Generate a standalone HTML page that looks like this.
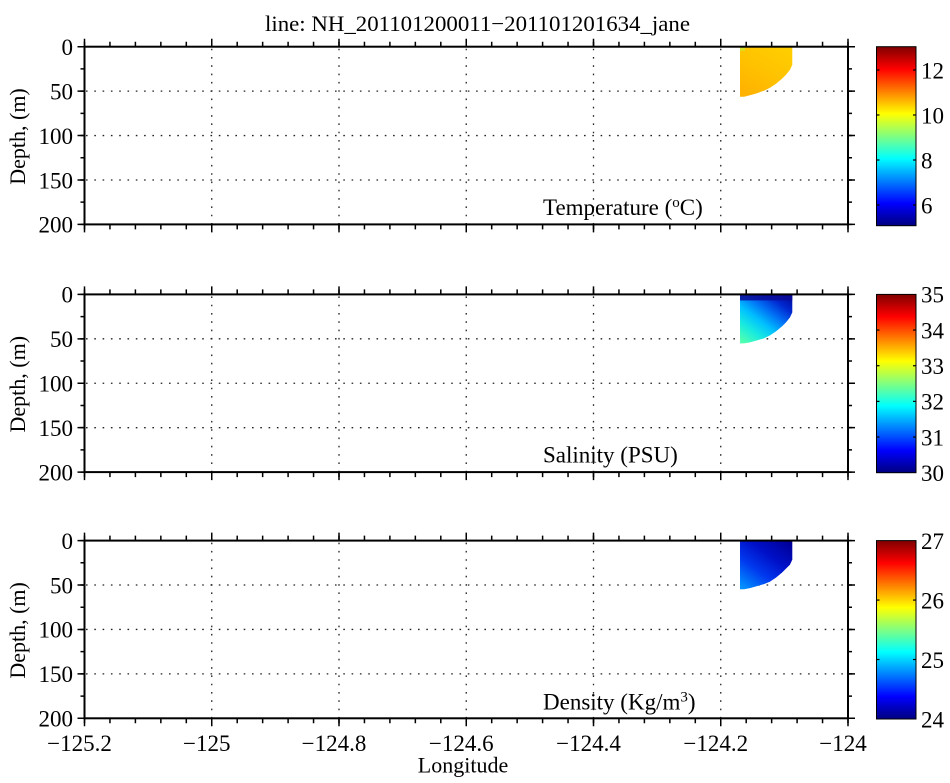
<!DOCTYPE html>
<html>
<head>
<meta charset="utf-8">
<style>
html,body{margin:0;padding:0;background:#fff;}
svg{display:block;}
svg, svg text, svg tspan{font-family:"Liberation Serif","Times New Roman",serif !important;}
</style>
</head>
<body>
<svg width="950" height="783" viewBox="0 0 950 783" xmlns="http://www.w3.org/2000/svg" font-family="Liberation Serif, serif">
<defs>
  <linearGradient id="jet" x1="0" y1="0" x2="0" y2="1">
    <stop offset="0" stop-color="#800000"/>
    <stop offset="0.125" stop-color="#FF0000"/>
    <stop offset="0.375" stop-color="#FFFF00"/>
    <stop offset="0.5" stop-color="#80FF80"/>
    <stop offset="0.625" stop-color="#00FFFF"/>
    <stop offset="0.875" stop-color="#0000FF"/>
    <stop offset="1" stop-color="#000080"/>
  </linearGradient>
  <linearGradient id="gT" x1="0.8" y1="0" x2="0.2" y2="1">
    <stop offset="0" stop-color="#FFCE00"/>
    <stop offset="0.5" stop-color="#FFC200"/>
    <stop offset="1" stop-color="#FFB200"/>
  </linearGradient>
  <linearGradient id="gS" x1="0.9" y1="0" x2="0.1" y2="1">
    <stop offset="0" stop-color="#000CA0"/>
    <stop offset="0.18" stop-color="#0028D0"/>
    <stop offset="0.38" stop-color="#0070F5"/>
    <stop offset="0.58" stop-color="#00BFFF"/>
    <stop offset="0.78" stop-color="#18EADF"/>
    <stop offset="1" stop-color="#50FFB0"/>
  </linearGradient>
  <linearGradient id="gD" x1="0.9" y1="0" x2="0.1" y2="1">
    <stop offset="0" stop-color="#000098"/>
    <stop offset="0.35" stop-color="#0010C8"/>
    <stop offset="0.65" stop-color="#0038EE"/>
    <stop offset="1" stop-color="#0090FF"/>
  </linearGradient>
</defs>

<rect x="0" y="0" width="950" height="783" fill="#fff"/>

<!-- Title -->
<text x="477.5" y="31" font-family="Liberation Serif, serif" font-size="22" text-anchor="middle" textLength="425" lengthAdjust="spacingAndGlyphs">line: NH_201101200011−201101201634_jane</text>

<!-- ============ PANEL 1 ============ -->
<g transform="translate(0,46.7)">
  <g stroke="#222" stroke-width="1.3" stroke-dasharray="1.6 6.7" fill="none">
    <line x1="86" y1="44.425" x2="848" y2="44.425"/>
    <line x1="86" y1="88.85" x2="848" y2="88.85"/>
    <line x1="86" y1="133.275" x2="848" y2="133.275"/>
    <line x1="211.75" y1="2" x2="211.75" y2="177.7"/>
    <line x1="339" y1="2" x2="339" y2="177.7"/>
    <line x1="466.25" y1="2" x2="466.25" y2="177.7"/>
    <line x1="593.5" y1="2" x2="593.5" y2="177.7"/>
    <line x1="720.75" y1="2" x2="720.75" y2="177.7"/>
  </g>
  <path d="M740,0 H792.3 V18 L790,23 L786,28 L782,32 L776,37 L770,41 L764,44 L757,46.5 L750,48.5 L744,50 L740,50 Z" fill="url(#gT)"/>
  <rect x="740" y="0" width="5" height="4" fill="#D6E22A"/>
  <g stroke="#000" fill="none">
    <line x1="83.75" y1="-4" x2="848.75" y2="-4" stroke-width="8" stroke-dasharray="1.5 125.75"/>
    <line x1="83.75" y1="-2.5" x2="848.75" y2="-2.5" stroke-width="5" stroke-dasharray="1.5 23.95"/>
    <line x1="83.75" y1="181.7" x2="848.75" y2="181.7" stroke-width="8" stroke-dasharray="1.5 125.75"/>
    <line x1="83.75" y1="180.2" x2="848.75" y2="180.2" stroke-width="5" stroke-dasharray="1.5 23.95"/>
    <line x1="81" y1="-0.75" x2="81" y2="178.45" stroke-width="7" stroke-dasharray="1.5 42.925"/>
    <line x1="82.5" y1="-0.75" x2="82.5" y2="178.45" stroke-width="4" stroke-dasharray="1.5 20.7125"/>
    <line x1="851.5" y1="-0.75" x2="851.5" y2="178.45" stroke-width="7" stroke-dasharray="1.5 42.925"/>
    <line x1="850" y1="-0.75" x2="850" y2="178.45" stroke-width="4" stroke-dasharray="1.5 20.7125"/>
    <rect x="84.5" y="0" width="763.5" height="177.7" stroke-width="2"/>
  </g>
  <g font-family="Liberation Serif, serif" font-size="23" text-anchor="end">
    <text x="73" y="8.3">0</text>
    <text x="73" y="52.7">50</text>
    <text x="73" y="97.15">100</text>
    <text x="73" y="141.6">150</text>
    <text x="73" y="186">200</text>
  </g>
  <text transform="translate(25,89.8) rotate(-90)" font-family="Liberation Serif, serif" font-size="22" text-anchor="middle">Depth, (m)</text>
  <text x="543" y="168.3" font-family="Liberation Serif, serif" font-size="23">Temperature (<tspan font-size="15" dy="-8">o</tspan><tspan dy="8">C)</tspan></text>
  <rect x="876.5" y="0" width="39.5" height="179" fill="url(#jet)" stroke="#000" stroke-width="1"/>
  <g stroke="#000" stroke-width="1.2">
    <line x1="876.5" y1="23.3" x2="879.5" y2="23.3"/><line x1="913" y1="23.3" x2="916" y2="23.3"/>
    <line x1="876.5" y1="68.3" x2="879.5" y2="68.3"/><line x1="913" y1="68.3" x2="916" y2="68.3"/>
    <line x1="876.5" y1="113.3" x2="879.5" y2="113.3"/><line x1="913" y1="113.3" x2="916" y2="113.3"/>
    <line x1="876.5" y1="158.3" x2="879.5" y2="158.3"/><line x1="913" y1="158.3" x2="916" y2="158.3"/>
  </g>
  <g font-family="Liberation Serif, serif" font-size="23">
    <text x="921" y="31.6">12</text>
    <text x="921" y="76.6">10</text>
    <text x="921" y="121.6">8</text>
    <text x="921" y="166.6">6</text>
  </g>
</g>

<!-- ============ PANEL 2 ============ -->
<g transform="translate(0,294.4)">
  <g stroke="#222" stroke-width="1.3" stroke-dasharray="1.6 6.7" fill="none">
    <line x1="86" y1="44.425" x2="848" y2="44.425"/>
    <line x1="86" y1="88.85" x2="848" y2="88.85"/>
    <line x1="86" y1="133.275" x2="848" y2="133.275"/>
    <line x1="211.75" y1="2" x2="211.75" y2="177.7"/>
    <line x1="339" y1="2" x2="339" y2="177.7"/>
    <line x1="466.25" y1="2" x2="466.25" y2="177.7"/>
    <line x1="593.5" y1="2" x2="593.5" y2="177.7"/>
    <line x1="720.75" y1="2" x2="720.75" y2="177.7"/>
  </g>
  <path d="M740,0 H792.3 V18 L790,23 L786,28 L782,32 L776,37 L770,41 L764,44 L757,46 L750,48 L744,49 L740,49 Z" fill="url(#gS)"/>
  <rect x="740" y="0" width="52.3" height="6" fill="#0A0C98" opacity="0.85"/>
  <g stroke="#000" fill="none">
    <line x1="83.75" y1="-4" x2="848.75" y2="-4" stroke-width="8" stroke-dasharray="1.5 125.75"/>
    <line x1="83.75" y1="-2.5" x2="848.75" y2="-2.5" stroke-width="5" stroke-dasharray="1.5 23.95"/>
    <line x1="83.75" y1="181.7" x2="848.75" y2="181.7" stroke-width="8" stroke-dasharray="1.5 125.75"/>
    <line x1="83.75" y1="180.2" x2="848.75" y2="180.2" stroke-width="5" stroke-dasharray="1.5 23.95"/>
    <line x1="81" y1="-0.75" x2="81" y2="178.45" stroke-width="7" stroke-dasharray="1.5 42.925"/>
    <line x1="82.5" y1="-0.75" x2="82.5" y2="178.45" stroke-width="4" stroke-dasharray="1.5 20.7125"/>
    <line x1="851.5" y1="-0.75" x2="851.5" y2="178.45" stroke-width="7" stroke-dasharray="1.5 42.925"/>
    <line x1="850" y1="-0.75" x2="850" y2="178.45" stroke-width="4" stroke-dasharray="1.5 20.7125"/>
    <rect x="84.5" y="0" width="763.5" height="177.7" stroke-width="2"/>
  </g>
  <g font-family="Liberation Serif, serif" font-size="23" text-anchor="end">
    <text x="73" y="8.3">0</text>
    <text x="73" y="52.7">50</text>
    <text x="73" y="97.15">100</text>
    <text x="73" y="141.6">150</text>
    <text x="73" y="186">200</text>
  </g>
  <text transform="translate(25,89.8) rotate(-90)" font-family="Liberation Serif, serif" font-size="22" text-anchor="middle">Depth, (m)</text>
  <text x="543" y="168.3" font-family="Liberation Serif, serif" font-size="23">Salinity (PSU)</text>
  <rect x="876.5" y="0" width="39.5" height="178.3" fill="url(#jet)" stroke="#000" stroke-width="1"/>
  <g stroke="#000" stroke-width="1.2">
    <line x1="876.5" y1="35.66" x2="879.5" y2="35.66"/><line x1="913" y1="35.66" x2="916" y2="35.66"/>
    <line x1="876.5" y1="71.32" x2="879.5" y2="71.32"/><line x1="913" y1="71.32" x2="916" y2="71.32"/>
    <line x1="876.5" y1="106.98" x2="879.5" y2="106.98"/><line x1="913" y1="106.98" x2="916" y2="106.98"/>
    <line x1="876.5" y1="142.64" x2="879.5" y2="142.64"/><line x1="913" y1="142.64" x2="916" y2="142.64"/>
  </g>
  <g font-family="Liberation Serif, serif" font-size="23">
    <text x="921" y="8.3">35</text>
    <text x="921" y="43.96">34</text>
    <text x="921" y="79.62">33</text>
    <text x="921" y="115.28">32</text>
    <text x="921" y="150.94">31</text>
    <text x="921" y="186.6">30</text>
  </g>
</g>

<!-- ============ PANEL 3 ============ -->
<g transform="translate(0,540.6)">
  <g stroke="#222" stroke-width="1.3" stroke-dasharray="1.6 6.7" fill="none">
    <line x1="86" y1="44.425" x2="848" y2="44.425"/>
    <line x1="86" y1="88.85" x2="848" y2="88.85"/>
    <line x1="86" y1="133.275" x2="848" y2="133.275"/>
    <line x1="211.75" y1="2" x2="211.75" y2="177.7"/>
    <line x1="339" y1="2" x2="339" y2="177.7"/>
    <line x1="466.25" y1="2" x2="466.25" y2="177.7"/>
    <line x1="593.5" y1="2" x2="593.5" y2="177.7"/>
    <line x1="720.75" y1="2" x2="720.75" y2="177.7"/>
  </g>
  <path d="M740,0 H792.3 V19 L790,24 L786,28 L782,32 L776,37 L770,41 L764,43.5 L757,45.5 L750,47.5 L744,48.7 L740,48.7 Z" fill="url(#gD)"/>
  <g stroke="#000" fill="none">
    <line x1="83.75" y1="-4" x2="848.75" y2="-4" stroke-width="8" stroke-dasharray="1.5 125.75"/>
    <line x1="83.75" y1="-2.5" x2="848.75" y2="-2.5" stroke-width="5" stroke-dasharray="1.5 23.95"/>
    <line x1="83.75" y1="181.7" x2="848.75" y2="181.7" stroke-width="8" stroke-dasharray="1.5 125.75"/>
    <line x1="83.75" y1="180.2" x2="848.75" y2="180.2" stroke-width="5" stroke-dasharray="1.5 23.95"/>
    <line x1="81" y1="-0.75" x2="81" y2="178.45" stroke-width="7" stroke-dasharray="1.5 42.925"/>
    <line x1="82.5" y1="-0.75" x2="82.5" y2="178.45" stroke-width="4" stroke-dasharray="1.5 20.7125"/>
    <line x1="851.5" y1="-0.75" x2="851.5" y2="178.45" stroke-width="7" stroke-dasharray="1.5 42.925"/>
    <line x1="850" y1="-0.75" x2="850" y2="178.45" stroke-width="4" stroke-dasharray="1.5 20.7125"/>
    <rect x="84.5" y="0" width="763.5" height="177.7" stroke-width="2"/>
  </g>
  <g font-family="Liberation Serif, serif" font-size="23" text-anchor="end">
    <text x="73" y="8.3">0</text>
    <text x="73" y="52.7">50</text>
    <text x="73" y="97.15">100</text>
    <text x="73" y="141.6">150</text>
    <text x="73" y="186">200</text>
  </g>
  <text transform="translate(25,89.8) rotate(-90)" font-family="Liberation Serif, serif" font-size="22" text-anchor="middle">Depth, (m)</text>
  <text x="543" y="169" font-family="Liberation Serif, serif" font-size="23">Density (Kg/m<tspan font-size="15" dy="-8">3</tspan><tspan dy="8">)</tspan></text>
  <rect x="876.5" y="0" width="39.5" height="178.4" fill="url(#jet)" stroke="#000" stroke-width="1"/>
  <g stroke="#000" stroke-width="1.2">
    <line x1="876.5" y1="59.47" x2="879.5" y2="59.47"/><line x1="913" y1="59.47" x2="916" y2="59.47"/>
    <line x1="876.5" y1="118.93" x2="879.5" y2="118.93"/><line x1="913" y1="118.93" x2="916" y2="118.93"/>
  </g>
  <g font-family="Liberation Serif, serif" font-size="23">
    <text x="921" y="8.3">27</text>
    <text x="921" y="67.8">26</text>
    <text x="921" y="127.2">25</text>
    <text x="921" y="186.7">24</text>
  </g>
</g>

<!-- X tick labels -->
<g font-family="Liberation Serif, serif" font-size="23" text-anchor="middle">
  <text x="79.5" y="751">−125.2</text>
  <text x="206.75" y="751">−125</text>
  <text x="334" y="751">−124.8</text>
  <text x="461.25" y="751">−124.6</text>
  <text x="588.5" y="751">−124.4</text>
  <text x="715.75" y="751">−124.2</text>
  <text x="843" y="751">−124</text>
</g>
<text x="463" y="772.5" font-family="Liberation Serif, serif" font-size="22" text-anchor="middle">Longitude</text>
</svg>
</body>
</html>
